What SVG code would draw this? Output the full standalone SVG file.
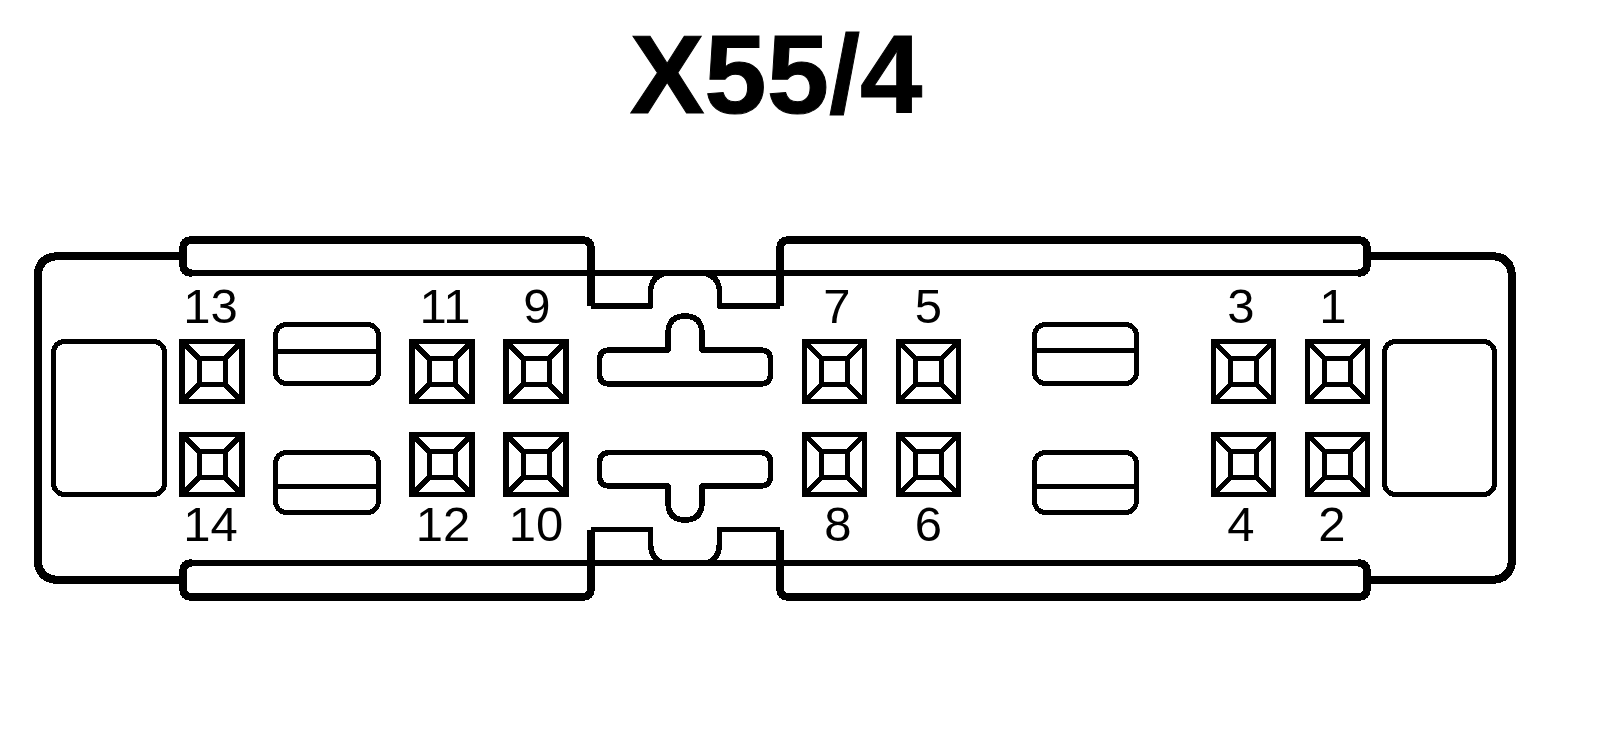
<svg xmlns="http://www.w3.org/2000/svg" width="1600" height="730" viewBox="0 0 1600 730">
<style>
.l{fill:none;stroke:#000;stroke-linejoin:round;shape-rendering:crispEdges}
.b{stroke-width:8}
.t{stroke-width:7.5}
.m{stroke-width:5.5}
.s{stroke-width:5}
.n{font-family:"Liberation Sans",Arial,sans-serif;font-size:49px;text-anchor:middle;fill:#000}
.h{font-family:"Liberation Sans",Arial,sans-serif;font-size:112px;font-weight:700;text-anchor:middle;fill:#000;stroke:#000;stroke-width:1}
</style>
<defs>
<g id="pin" fill="none" stroke="#000" shape-rendering="crispEdges">
<rect x="-30" y="-30" width="60" height="60" stroke-width="5.500"/>
<rect x="-13" y="-13" width="26" height="26" stroke-width="5"/>
<path d="M-28-28L-13-13M28-28L13-13M-28 28L-13 13M28 28L13 13" stroke-width="5"/>
</g>
</defs>
<rect width="1600" height="730" fill="#fff"/>
<text id="title" class="h" x="776" y="113">X55/4</text>
<g id="housing">
<path class="l b" d="M183 256H60Q37.500 256 37.500 278V558Q37.500 580 60 580H183"/>
<path class="l b" d="M1367 256H1490Q1512 256 1512 278V558Q1512 580 1490 580H1367"/>
<path class="l t" d="M591 306V249Q591 240 582 240H192Q183 240 183 249V264Q183 273 192 273"/>
<path class="l t" d="M780 306V249Q780 240 789 240H1358Q1367 240 1367 249V264Q1367 273 1358 273"/>
<path class="l t" d="M591 530V588Q591 597 582 597H192Q183 597 183 588V572Q183 563 192 563"/>
<path class="l t" d="M780 530V588Q780 597 789 597H1358Q1367 597 1367 588V572Q1367 563 1358 563"/>
<path class="l m" d="M190 273H1360M591 306H650.500V293Q650.500 275 668 273M702 273Q719.500 275 719.500 293V306H780"/>
<path class="l m" d="M190 563H1360M591 529.500H650.500V543Q650.500 558 662 563M708 563Q719.500 558 719.500 543V529.500H780"/>
</g>
<g id="latch-left"><rect class="l s" x="53.500" y="341.500" width="111" height="153" rx="11"/></g>
<g id="latch-right"><rect class="l s" x="1384.500" y="341.500" width="110" height="153" rx="11"/></g>
<g id="slot-1"><rect class="l s" x="275.500" y="324.500" width="103" height="59" rx="11"/><path class="l s" d="M275.500 351H378.500"/></g>
<g id="slot-2"><rect class="l s" x="275.500" y="452.500" width="103" height="60" rx="11"/><path class="l s" d="M275.500 486.500H378.500"/></g>
<g id="slot-3"><rect class="l s" x="1034.500" y="324.500" width="102" height="59" rx="11"/><path class="l s" d="M1034.500 350.500H1136.500"/></g>
<g id="slot-4"><rect class="l s" x="1034.500" y="452.500" width="102" height="60" rx="11"/><path class="l s" d="M1034.500 486.500H1136.500"/></g>
<g id="key-top"><path class="l m" d="M668 350V334Q668 316 685 316Q702 316 702 334V350H760Q770.500 350 770.500 360V374Q770.500 384 760 384H610Q599.500 384 599.500 374V360Q599.500 350 610 350Z"/></g>
<g id="key-bottom"><path class="l m" d="M668 486V502Q668 520 685 520Q702 520 702 502V486H760Q770.500 486 770.500 476V463Q770.500 452.500 760 452.500H610Q599.500 452.500 599.500 463V476Q599.500 486 610 486Z"/></g>
<g id="pin-13"><use href="#pin" x="212" y="371.500"/><text class="n" x="210.500" y="323">13</text></g>
<g id="pin-14"><use href="#pin" x="212" y="464.500"/><text class="n" x="210.500" y="541">14</text></g>
<g id="pin-11"><use href="#pin" x="442" y="371.500"/><text class="n" x="445" y="323">11</text></g>
<g id="pin-12"><use href="#pin" x="442" y="464.500"/><text class="n" x="443" y="541">12</text></g>
<g id="pin-9"><use href="#pin" x="536" y="371.500"/><text class="n" x="537" y="323">9</text></g>
<g id="pin-10"><use href="#pin" x="536" y="464.500"/><text class="n" x="536" y="541">10</text></g>
<g id="pin-7"><use href="#pin" x="834.500" y="371.500"/><text class="n" x="837" y="323">7</text></g>
<g id="pin-8"><use href="#pin" x="834.500" y="464.500"/><text class="n" x="838" y="541">8</text></g>
<g id="pin-5"><use href="#pin" x="928.500" y="371.500"/><text class="n" x="928.500" y="323">5</text></g>
<g id="pin-6"><use href="#pin" x="928.500" y="464.500"/><text class="n" x="928.500" y="541">6</text></g>
<g id="pin-3"><use href="#pin" x="1243.500" y="371.500"/><text class="n" x="1241" y="323">3</text></g>
<g id="pin-4"><use href="#pin" x="1243.500" y="464.500"/><text class="n" x="1241" y="541">4</text></g>
<g id="pin-1"><use href="#pin" x="1337.500" y="371.500"/><text class="n" x="1333" y="323">1</text></g>
<g id="pin-2"><use href="#pin" x="1337.500" y="464.500"/><text class="n" x="1332" y="541">2</text></g>
</svg>
